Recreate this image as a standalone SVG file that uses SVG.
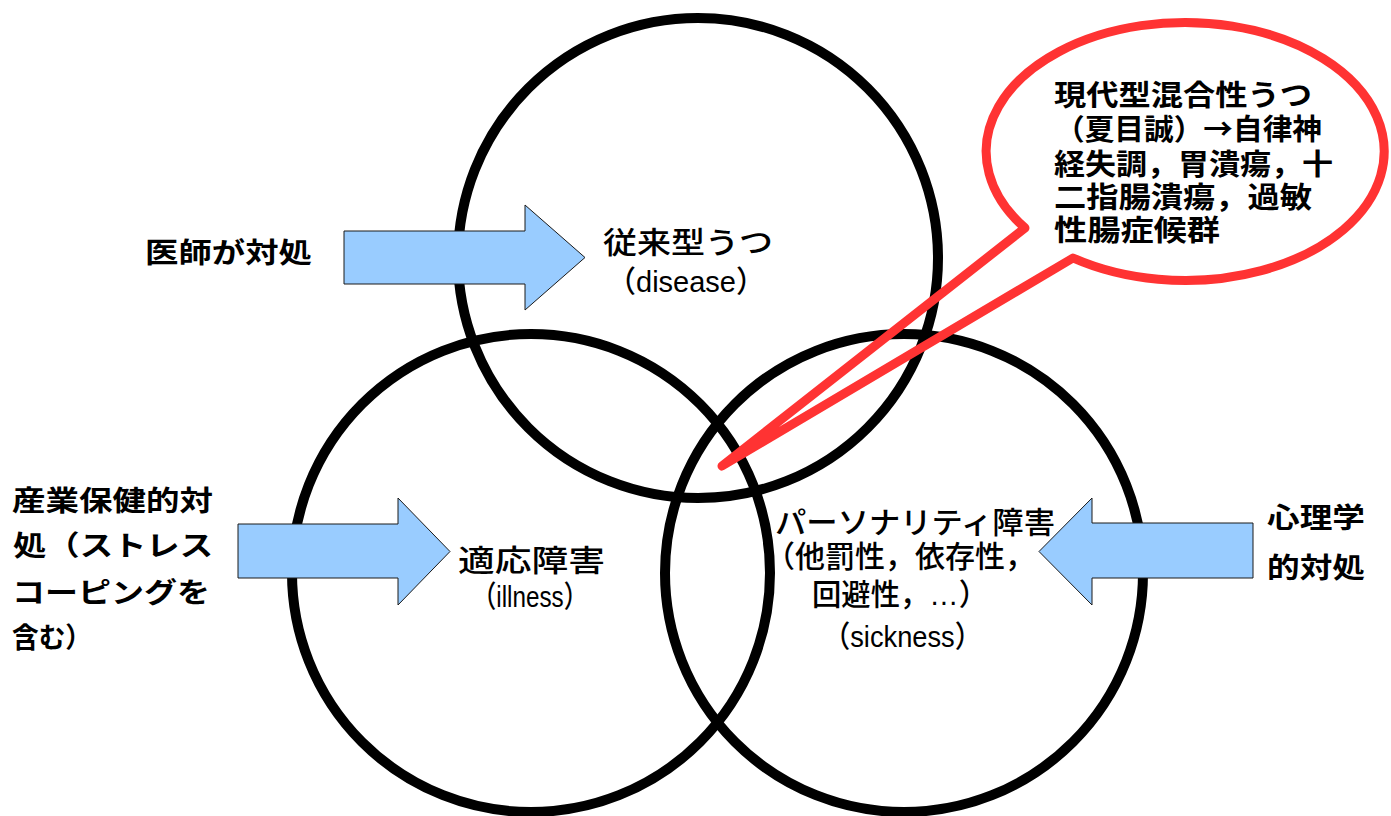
<svg xmlns="http://www.w3.org/2000/svg" width="1391" height="816" viewBox="0 0 1391 816">
<style>
.ring{fill:none;stroke:#000;stroke-width:10}
.lbl{font-family:"Liberation Sans","Noto Sans CJK JP",sans-serif;font-size:30px;font-weight:500;fill:#000}
.blbl{font-family:"Noto Sans CJK JP","Liberation Sans",sans-serif;font-size:28px;font-weight:bold;fill:#000}
.btxt{font-family:"Noto Sans CJK JP","Liberation Sans",sans-serif;font-size:29px;font-weight:bold;fill:#000}
.arrow{fill:#99ccff;stroke:#1a1a1a;stroke-width:1}
.bubble{fill:none;stroke:#ff3333;stroke-width:9;stroke-linejoin:round}
</style>
<rect width="1391" height="816" fill="#fff"/>

<g id="node-sickness">
  <text class="lbl" x="775" y="533" textLength="280" lengthAdjust="spacingAndGlyphs">パーソナリティ障害</text>
  <text class="lbl" x="765" y="567" textLength="270" lengthAdjust="spacingAndGlyphs">（他罰性，依存性，</text>
  <text class="lbl" x="812" y="605" textLength="176" lengthAdjust="spacingAndGlyphs">回避性，…）</text>
  <text class="lbl" x="823" y="647" textLength="159" lengthAdjust="spacingAndGlyphs">（sickness）</text>
  <circle class="ring" cx="904" cy="573" r="239"/>
</g>

<g id="node-illness">
  <text class="lbl" x="458" y="571" textLength="147" lengthAdjust="spacingAndGlyphs">適応障害</text>
  <text class="lbl" x="472" y="607" textLength="116" lengthAdjust="spacingAndGlyphs">（illness）</text>
  <circle class="ring" cx="531" cy="573" r="239"/>
</g>

<g id="node-disease">
  <text class="lbl" x="603" y="253" textLength="170" lengthAdjust="spacingAndGlyphs">従来型うつ</text>
  <text class="lbl" x="607" y="292" textLength="158" lengthAdjust="spacingAndGlyphs">（disease）</text>
  <circle class="ring" cx="698" cy="258" r="240"/>
</g>

<g id="connectors">
  <polygon class="arrow" points="344,231 525,231 525,205 585,257.5 525,310 525,284 344,284"/>
  <polygon class="arrow" points="238,524 398,524 398,498 450,551.5 398,605 398,578 238,578"/>
  <polygon class="arrow" points="1253,523 1092,523 1092,498 1039,551.5 1092,605 1092,578 1253,578"/>
</g>

<g id="node-doctor">
  <text class="blbl" x="145" y="263" textLength="167" lengthAdjust="spacingAndGlyphs">医師が対処</text>
</g>

<g id="node-occupational">
  <text class="blbl" x="12" y="511" textLength="201" lengthAdjust="spacingAndGlyphs">産業保健的対</text>
  <text class="blbl" x="13" y="556" textLength="200" lengthAdjust="spacingAndGlyphs">処（ストレス</text>
  <text class="blbl" x="12" y="603" textLength="198" lengthAdjust="spacingAndGlyphs">コーピングを</text>
  <text class="blbl" x="12" y="648" textLength="80" lengthAdjust="spacingAndGlyphs">含む）</text>
</g>

<g id="node-psych">
  <text class="blbl" x="1267" y="528" textLength="98" lengthAdjust="spacingAndGlyphs">心理学</text>
  <text class="blbl" x="1267" y="578" textLength="98" lengthAdjust="spacingAndGlyphs">的対処</text>
</g>

<g id="node-callout">
  <path class="bubble" d="M1025,228 L722,466 L1073,258 A199,129 0 1 0 1025,228 Z"/>
  <text class="btxt" x="1054" y="106" textLength="258" lengthAdjust="spacingAndGlyphs">現代型混合性うつ</text>
  <text class="btxt" x="1055" y="140" textLength="267" lengthAdjust="spacingAndGlyphs">（夏目誠）→自律神</text>
  <text class="btxt" x="1054" y="175" textLength="279" lengthAdjust="spacingAndGlyphs">経失調，胃潰瘍，十</text>
  <text class="btxt" x="1054" y="208" textLength="258" lengthAdjust="spacingAndGlyphs">二指腸潰瘍，過敏</text>
  <text class="btxt" x="1054" y="241" textLength="166" lengthAdjust="spacingAndGlyphs">性腸症候群</text>
</g>
</svg>
